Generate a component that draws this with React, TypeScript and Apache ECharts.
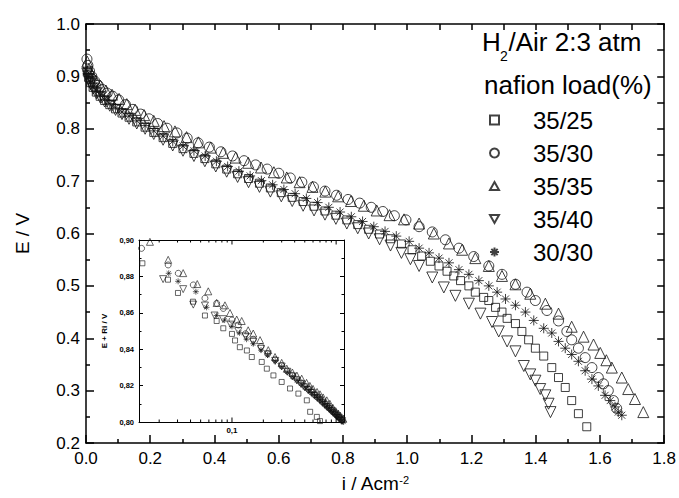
import React, { useEffect, useRef } from "react";
import * as echarts from "echarts";

type P = [number, number];

const seriesNames = ["35/25", "35/30", "35/35", "35/40", "30/30"];

// main plot: i (A/cm2), E (V)
const main3525: P[] = [[0.004,0.908],[0.008,0.898],[0.014,0.888],[0.022,0.879],[0.032,0.870],[0.044,0.862],[0.058,0.854],[0.074,0.846],[0.092,0.838],[0.112,0.830],[0.134,0.822],[0.158,0.813],[0.184,0.803],[0.211,0.793],[0.240,0.783],[0.270,0.772],[0.302,0.762],[0.336,0.753],[0.370,0.743],[0.404,0.733],[0.438,0.723],[0.472,0.714],[0.506,0.705],[0.540,0.696],[0.574,0.687],[0.608,0.678],[0.642,0.669],[0.676,0.661],[0.710,0.652],[0.744,0.643],[0.778,0.635],[0.812,0.626],[0.846,0.617],[0.880,0.608],[0.914,0.599],[0.948,0.590],[0.982,0.580],[1.015,0.569],[1.045,0.557],[1.072,0.547],[1.099,0.538],[1.124,0.528],[1.145,0.519],[1.166,0.510],[1.192,0.500],[1.212,0.488],[1.238,0.478],[1.254,0.472],[1.275,0.459],[1.295,0.450],[1.311,0.438],[1.337,0.428],[1.357,0.413],[1.378,0.397],[1.399,0.381],[1.425,0.366],[1.450,0.344],[1.471,0.325],[1.492,0.306],[1.512,0.281],[1.533,0.256],[1.559,0.231]];
const main3530: P[] = [[0.003,0.933],[0.006,0.921],[0.011,0.910],[0.018,0.900],[0.027,0.891],[0.038,0.883],[0.051,0.875],[0.066,0.868],[0.083,0.862],[0.102,0.855],[0.123,0.846],[0.146,0.837],[0.170,0.828],[0.196,0.819],[0.223,0.810],[0.252,0.801],[0.283,0.792],[0.315,0.782],[0.349,0.773],[0.384,0.765],[0.420,0.756],[0.456,0.748],[0.492,0.739],[0.528,0.731],[0.564,0.723],[0.600,0.715],[0.636,0.706],[0.672,0.698],[0.708,0.689],[0.744,0.681],[0.780,0.673],[0.816,0.665],[0.852,0.658],[0.888,0.650],[0.924,0.642],[0.960,0.634],[0.996,0.626],[1.037,0.613],[1.078,0.603],[1.119,0.588],[1.161,0.572],[1.207,0.556],[1.254,0.538],[1.295,0.522],[1.337,0.503],[1.373,0.488],[1.399,0.472],[1.435,0.453],[1.471,0.433],[1.497,0.413],[1.512,0.397],[1.533,0.381],[1.554,0.363],[1.575,0.344],[1.595,0.325],[1.611,0.313],[1.626,0.300],[1.642,0.281],[1.652,0.266]];
const main3535: P[] = [[0.004,0.928],[0.009,0.914],[0.018,0.903],[0.030,0.892],[0.045,0.882],[0.062,0.873],[0.081,0.865],[0.103,0.857],[0.127,0.847],[0.153,0.836],[0.181,0.826],[0.211,0.815],[0.243,0.805],[0.277,0.795],[0.313,0.784],[0.350,0.774],[0.388,0.764],[0.427,0.754],[0.466,0.745],[0.505,0.735],[0.545,0.726],[0.585,0.717],[0.625,0.707],[0.665,0.698],[0.705,0.689],[0.745,0.680],[0.785,0.671],[0.825,0.662],[0.865,0.653],[0.905,0.644],[0.945,0.635],[0.990,0.627],[1.037,0.619],[1.083,0.600],[1.130,0.581],[1.171,0.569],[1.212,0.553],[1.254,0.538],[1.295,0.519],[1.337,0.503],[1.383,0.485],[1.430,0.466],[1.471,0.447],[1.512,0.422],[1.549,0.403],[1.580,0.388],[1.601,0.372],[1.620,0.358],[1.637,0.344],[1.668,0.325],[1.688,0.303],[1.709,0.284],[1.735,0.259]];
const main3540: P[] = [[0.004,0.905],[0.008,0.895],[0.014,0.886],[0.022,0.877],[0.032,0.868],[0.044,0.860],[0.058,0.852],[0.074,0.844],[0.092,0.836],[0.112,0.828],[0.134,0.819],[0.158,0.810],[0.184,0.800],[0.211,0.790],[0.240,0.779],[0.270,0.768],[0.302,0.758],[0.336,0.748],[0.370,0.738],[0.404,0.728],[0.438,0.718],[0.472,0.708],[0.506,0.698],[0.540,0.689],[0.574,0.680],[0.608,0.671],[0.642,0.662],[0.676,0.653],[0.710,0.644],[0.744,0.636],[0.778,0.628],[0.812,0.619],[0.846,0.610],[0.880,0.600],[0.914,0.589],[0.948,0.577],[0.982,0.563],[1.010,0.551],[1.037,0.538],[1.078,0.516],[1.114,0.497],[1.150,0.481],[1.192,0.466],[1.228,0.447],[1.264,0.431],[1.285,0.413],[1.311,0.394],[1.337,0.375],[1.363,0.347],[1.383,0.331],[1.399,0.319],[1.414,0.303],[1.430,0.291],[1.440,0.275],[1.446,0.259]];
const main3030: P[] = [[0.004,0.910],[0.008,0.899],[0.014,0.889],[0.022,0.880],[0.032,0.872],[0.044,0.864],[0.058,0.856],[0.074,0.848],[0.092,0.840],[0.112,0.832],[0.134,0.824],[0.158,0.815],[0.184,0.806],[0.211,0.796],[0.240,0.786],[0.270,0.776],[0.302,0.767],[0.336,0.758],[0.371,0.748],[0.406,0.738],[0.441,0.728],[0.476,0.719],[0.511,0.710],[0.546,0.701],[0.581,0.693],[0.616,0.684],[0.651,0.676],[0.686,0.667],[0.721,0.659],[0.756,0.650],[0.791,0.641],[0.826,0.632],[0.861,0.623],[0.896,0.613],[0.931,0.604],[0.966,0.595],[1.006,0.585],[1.037,0.572],[1.068,0.563],[1.099,0.553],[1.130,0.544],[1.161,0.531],[1.192,0.522],[1.223,0.510],[1.254,0.500],[1.280,0.488],[1.306,0.475],[1.337,0.463],[1.368,0.450],[1.394,0.434],[1.425,0.419],[1.450,0.410],[1.471,0.394],[1.492,0.381],[1.512,0.369],[1.533,0.356],[1.554,0.338],[1.575,0.322],[1.595,0.309],[1.616,0.291],[1.632,0.281],[1.647,0.269],[1.657,0.259],[1.668,0.253]];

// inset: i (A/cm2, log), E + Ri (V)
const inset3525: P[] = [[0.0138,0.8872],[0.0243,0.8782],[0.0303,0.8709],[0.0422,0.8661],[0.055,0.8585],[0.0713,0.8555],[0.0825,0.8515],[0.100,0.8484],[0.107,0.8448],[0.119,0.8411],[0.139,0.8393],[0.155,0.8357],[0.193,0.833],[0.216,0.8293],[0.25,0.8256],[0.30,0.822],[0.361,0.8184],[0.434,0.8156],[0.523,0.8119],[0.563,0.8056],[0.653,0.8028],[0.70,0.8005]];
const inset3530: P[] = [[0.01355,0.8954],[0.0244,0.8863],[0.0305,0.8817],[0.0425,0.8753],[0.055,0.868],[0.0713,0.8652],[0.0825,0.8624],[0.100,0.856],[0.115,0.8533],[0.135,0.8485],[0.16,0.8455],[0.19,0.8415],[0.22,0.8375],[0.26,0.8342],[0.30,0.831],[0.34,0.828],[0.38,0.8256],[0.42,0.8235],[0.46,0.8215],[0.50,0.8196],[0.54,0.818],[0.58,0.8165],[0.62,0.815],[0.66,0.8137],[0.70,0.8124],[0.74,0.811],[0.78,0.8098],[0.82,0.8086],[0.86,0.8076],[0.90,0.8064],[0.94,0.8054],[0.98,0.8044],[1.02,0.8035],[1.06,0.8026],[1.10,0.8017],[1.14,0.8008]];
const inset3535: P[] = [[0.0163,0.899],[0.0244,0.8891],[0.034,0.8818],[0.0464,0.8758],[0.0592,0.8718],[0.0713,0.8654],[0.0856,0.8641],[0.0957,0.8599],[0.111,0.8563],[0.124,0.8555],[0.143,0.8504],[0.160,0.8486],[0.186,0.845],[0.223,0.8395],[0.259,0.8357],[0.30,0.8325],[0.336,0.8293],[0.38,0.8272],[0.42,0.8255],[0.467,0.8238],[0.52,0.8215],[0.56,0.8198],[0.60,0.8182],[0.656,0.8165],[0.70,0.8152],[0.75,0.8135],[0.814,0.8119],[0.87,0.81],[0.93,0.8078],[0.99,0.806],[1.05,0.8046],[1.10,0.8033],[1.17,0.8018]];
const inset3540: P[] = [[0.0218,0.8785],[0.034,0.873],[0.0425,0.8645],[0.055,0.864],[0.068,0.8585],[0.082,0.8565],[0.097,0.8535],[0.115,0.85],[0.135,0.847],[0.16,0.844],[0.19,0.8402],[0.22,0.8372],[0.26,0.8336],[0.30,0.8305],[0.34,0.8276],[0.38,0.825],[0.42,0.8228],[0.46,0.8209],[0.50,0.819],[0.54,0.8174],[0.58,0.816],[0.62,0.8145],[0.66,0.8132],[0.70,0.8119],[0.74,0.8106],[0.78,0.8094],[0.82,0.8082],[0.86,0.8072],[0.90,0.8061],[0.94,0.8051],[0.98,0.8041],[1.02,0.8032],[1.06,0.8023],[1.10,0.8014],[1.14,0.8005]];
const inset3030: P[] = [[0.0247,0.8817],[0.0304,0.8773],[0.045,0.8716],[0.057,0.863],[0.0713,0.8585],[0.085,0.856],[0.100,0.8525],[0.118,0.849],[0.138,0.8455],[0.16,0.843],[0.19,0.8395],[0.22,0.8368],[0.26,0.8334],[0.30,0.8303],[0.34,0.8275],[0.38,0.825],[0.42,0.8229],[0.46,0.821],[0.50,0.8192],[0.54,0.8176],[0.58,0.8162],[0.62,0.8148],[0.66,0.8135],[0.70,0.8122],[0.74,0.8109],[0.78,0.8097],[0.82,0.8085],[0.86,0.8074],[0.90,0.8063],[0.94,0.8053],[0.98,0.8043],[1.02,0.8034],[1.06,0.8025],[1.10,0.8016],[1.14,0.8007],[1.18,0.8]];

// inset log-axis tick positions (minor & major)
const insetLogTicks = [0.02,0.03,0.04,0.05,0.06,0.07,0.08,0.09,0.1,0.2,0.3,0.4,0.5,0.6,0.7,0.8,0.9,1.0];
const insetLogMajor = [0.1, 1.0];

const FONT = "'Liberation Sans', Arial, Helvetica, sans-serif";
const BLACK = "#000";

const SYM_SQUARE = "rect";
const SYM_CIRCLE = "circle";
const SYM_TRI = "path://M5,0L10,9L0,9Z";
const SYM_INV = "path://M0,0L10,0L5,9Z";
const SYM_STAR = "path://M5,0L5,10M0,5L10,5M1.5,1.5L8.5,8.5M8.5,1.5L1.5,8.5";

const mainData = [main3525, main3530, main3535, main3540, main3030];
const insetData = [inset3525, inset3530, inset3535, inset3540, inset3030];
const symbols = [SYM_SQUARE, SYM_CIRCLE, SYM_TRI, SYM_INV, SYM_STAR];
const mainSizes = [8, 10, 11, 11, 10];
const insetSizes = [5, 6, 7, 7, 6];

function buildOption(): any {
  const hollow = (w: number) => ({ color: "rgba(0,0,0,0)", borderColor: "#111", borderWidth: w });
  const series: any[] = [];
  seriesNames.forEach((name, k) => {
    series.push({
      name, type: "scatter", xAxisIndex: 0, yAxisIndex: 0,
      symbol: symbols[k], symbolSize: mainSizes[k],
      itemStyle: hollow(1), data: mainData[k], z: 3,
    });
  });
  seriesNames.forEach((name, k) => {
    series.push({
      name, type: "scatter", xAxisIndex: 2, yAxisIndex: 2,
      symbol: symbols[k], symbolSize: insetSizes[k],
      itemStyle: hollow(0.8), data: insetData[k], z: 4,
    });
  });
  series.push({
    name: "insetTicks", type: "custom", xAxisIndex: 2, yAxisIndex: 2, z: 5,
    clip: false, silent: true,
    data: insetLogTicks.map((v) => [v, 0.8]),
    renderItem: (params: any, api: any) => {
      const v = api.value(0);
      const b = api.coord([v, 0.8]);
      const t = api.coord([v, 0.9]);
      const len = insetLogMajor.some((m) => Math.abs(m - v) < 1e-9) ? 4.5 : 2.5;
      const st = { stroke: BLACK, lineWidth: 1 };
      return {
        type: "group",
        children: [
          { type: "line", shape: { x1: b[0], y1: b[1], x2: b[0], y2: b[1] - len }, style: st },
          { type: "line", shape: { x1: t[0], y1: t[1], x2: t[0], y2: t[1] + len }, style: st },
        ],
      };
    },
  });

  const mainLine = { show: true, onZero: false, lineStyle: { color: BLACK, width: 1.5 } };
  const insetLine = { show: true, onZero: false, lineStyle: { color: BLACK, width: 1 } };
  const tickStyle = (w: number) => ({ color: BLACK, width: w });

  return {
    animation: false,
    backgroundColor: "#fff",
    textStyle: { fontFamily: FONT },
    grid: [
      { left: 86, top: 24, width: 580, height: 426, show: false },
      { left: 139, top: 240, width: 205, height: 182, show: true, backgroundColor: "#fff", borderWidth: 0 },
    ],
    legend: {
      data: seriesNames,
      orient: "vertical",
      left: 484,
      top: 103,
      itemWidth: 9,
      itemHeight: 9,
      itemGap: 9,
      selectedMode: false,
      textStyle: { fontSize: 24, color: BLACK, fontFamily: FONT, padding: [0, 0, 0, 29] },
    },
    xAxis: [
      {
        gridIndex: 0, type: "value", min: 0, max: 1.8, interval: 0.2, position: "bottom",
        axisLine: mainLine,
        axisTick: { show: true, inside: true, length: 8, lineStyle: tickStyle(1.5) },
        minorTick: { show: true, splitNumber: 2, length: 4, lineStyle: tickStyle(1.5) },
        splitLine: { show: false }, minorSplitLine: { show: false },
        axisLabel: { fontSize: 17, color: BLACK, fontFamily: FONT, margin: 7, formatter: (v: number) => v.toFixed(1) },
        name: "i / Acm{sup|-2}", nameLocation: "middle", nameGap: 31,
        nameTextStyle: { fontSize: 19, color: BLACK, fontFamily: FONT, rich: { sup: { fontSize: 11, verticalAlign: "top", color: BLACK, fontFamily: FONT } } },
      },
      {
        gridIndex: 0, type: "value", min: 0, max: 1.8, interval: 0.1, position: "top",
        axisLine: mainLine,
        axisTick: { show: true, inside: true, length: 6, lineStyle: tickStyle(1.5) },
        axisLabel: { show: false }, splitLine: { show: false },
      },
      {
        gridIndex: 1, type: "log", logBase: 10, min: 0.0128, max: 1.19, position: "bottom",
        axisLine: insetLine, axisTick: { show: false }, splitLine: { show: false },
        axisLabel: {
          fontSize: 8, fontWeight: "bold", color: BLACK, fontFamily: FONT, margin: 4,
          formatter: (v: number) => (Math.abs(v - 0.1) < 1e-9 ? "0,1" : ""),
        },
      },
      {
        gridIndex: 1, type: "log", logBase: 10, min: 0.0128, max: 1.19, position: "top",
        axisLine: insetLine, axisTick: { show: false }, axisLabel: { show: false }, splitLine: { show: false },
      },
    ],
    yAxis: [
      {
        gridIndex: 0, type: "value", min: 0.2, max: 1.0, interval: 0.1, position: "left",
        axisLine: mainLine,
        axisTick: { show: true, inside: true, length: 8, lineStyle: tickStyle(1.5) },
        minorTick: { show: true, splitNumber: 2, length: 4, lineStyle: tickStyle(1.5) },
        splitLine: { show: false }, minorSplitLine: { show: false },
        axisLabel: { fontSize: 17, color: BLACK, fontFamily: FONT, margin: 6, formatter: (v: number) => v.toFixed(1) },
        name: "E / V", nameLocation: "middle", nameGap: 54, nameRotate: 90,
        nameTextStyle: { fontSize: 19, color: BLACK, fontFamily: FONT },
      },
      {
        gridIndex: 0, type: "value", min: 0.2, max: 1.0, interval: 0.05, position: "right",
        axisLine: mainLine,
        axisTick: { show: true, inside: true, length: 7, lineStyle: tickStyle(1.5) },
        axisLabel: { show: false }, splitLine: { show: false },
      },
      {
        gridIndex: 1, type: "value", min: 0.8, max: 0.9, interval: 0.02, position: "left",
        axisLine: insetLine,
        axisTick: { show: true, inside: true, length: 4, lineStyle: tickStyle(1) },
        minorTick: { show: true, splitNumber: 2, length: 2.5, lineStyle: tickStyle(1) },
        splitLine: { show: false }, minorSplitLine: { show: false },
        axisLabel: {
          fontSize: 7.5, fontWeight: "bold", color: BLACK, fontFamily: FONT, margin: 5,
          formatter: (v: number) => v.toFixed(2).replace(".", ","),
        },
        name: "E + Ri / V", nameLocation: "middle", nameGap: 31, nameRotate: 90,
        nameTextStyle: { fontSize: 8, fontWeight: "bold", color: BLACK, fontFamily: FONT },
      },
      {
        gridIndex: 1, type: "value", min: 0.8, max: 0.9, interval: 0.02, position: "right",
        axisLine: insetLine,
        axisTick: { show: true, inside: true, length: 4, lineStyle: tickStyle(1) },
        minorTick: { show: true, splitNumber: 2, length: 2.5, lineStyle: tickStyle(1) },
        axisLabel: { show: false }, splitLine: { show: false },
      },
    ],
    graphic: [
      { type: "text", x: 482, y: 42, style: { text: "H", fontSize: 26, fontFamily: FONT, fill: BLACK, verticalAlign: "middle" } },
      { type: "text", x: 500, y: 56, style: { text: "2", fontSize: 14, fontFamily: FONT, fill: BLACK, verticalAlign: "middle" } },
      { type: "text", x: 508.5, y: 42, style: { text: "/Air 2:3 atm", fontSize: 26, fontFamily: FONT, fill: BLACK, verticalAlign: "middle" } },
      { type: "text", x: 484, y: 85, style: { text: "nafion load(%)", fontSize: 26, fontFamily: FONT, fill: BLACK, verticalAlign: "middle" } },
    ],
    series,
  };
}

export default function App() {
  const ref = useRef<HTMLDivElement>(null);
  useEffect(() => {
    if (!ref.current) return;
    const chart = echarts.init(ref.current, null, { renderer: "svg" });
    chart.setOption(buildOption());
    return () => chart.dispose();
  }, []);
  return <div ref={ref} style={{ position: "fixed", left: 0, top: 0, width: 679, height: 498 }} />;
}
